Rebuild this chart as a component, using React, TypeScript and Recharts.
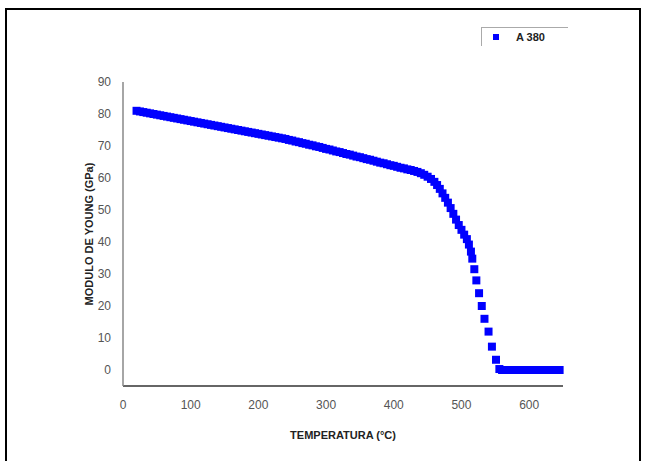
import { ScatterChart, Scatter, XAxis, YAxis, ZAxis, Legend } from "recharts";

// Temperature (°C) and Young's modulus (GPa)
const temperatures = [
  20, 25, 30, 35, 40, 45, 50, 55, 60, 65, 70, 75, 80, 85, 90, 95, 100, 105, 110, 115,
  120, 125, 130, 135, 140, 145, 150, 155, 160, 165, 170, 175, 180, 185, 190, 195, 200, 205, 210, 215,
  220, 225, 230, 235, 240, 245, 250, 255, 260, 265, 270, 275, 280, 285, 290, 295, 300, 305, 310, 315,
  320, 325, 330, 335, 340, 345, 350, 355, 360, 365, 370, 375, 380, 385, 390, 395, 400, 405, 410, 415,
  420, 425, 430, 435, 440, 445, 450, 455, 460, 464, 468, 472, 476, 480, 484, 488, 492, 496, 500, 504,
  508, 511, 514, 516, 519, 522, 526, 530, 534, 540, 545, 551, 556, 560, 565, 570, 575, 580, 585, 590,
  595, 600, 605, 610, 615, 620, 625, 630, 635, 640, 645,
];
const modulus = [
  81.0, 80.8, 80.6, 80.4, 80.2, 80.0, 79.8, 79.6, 79.4, 79.2, 79.0, 78.8, 78.6, 78.4, 78.2, 78.0, 77.8, 77.6, 77.4, 77.2,
  77.0, 76.8, 76.6, 76.4, 76.2, 76.0, 75.8, 75.6, 75.4, 75.2, 75.0, 74.8, 74.6, 74.4, 74.2, 74.0, 73.8, 73.6, 73.4, 73.2,
  73.0, 72.8, 72.6, 72.4, 72.2, 71.9, 71.7, 71.4, 71.2, 70.9, 70.7, 70.4, 70.2, 69.9, 69.7, 69.4, 69.1, 68.9, 68.6, 68.3,
  68.1, 67.8, 67.5, 67.3, 67.0, 66.7, 66.5, 66.2, 65.9, 65.7, 65.4, 65.1, 64.8, 64.6, 64.3, 64.0, 63.8, 63.5, 63.2, 63.0,
  62.7, 62.5, 62.2, 61.9, 61.5, 61.0, 60.4, 59.7, 58.8, 57.8, 56.6, 55.2, 53.8, 52.3, 50.6, 48.8, 47.0, 45.3, 43.8, 42.3,
  40.9, 39.2, 37.0, 34.8, 31.5, 28.0, 24.0, 20.0, 16.0, 12.0, 7.3, 3.2, 0.3, 0, 0, 0, 0, 0, 0, 0,
  0, 0, 0, 0, 0, 0, 0, 0, 0, 0, 0,
];
const xTicks = [0, 100, 200, 300, 400, 500, 600];
const yTicks = [0, 10, 20, 30, 40, 50, 60, 70, 80, 90];
const seriesName = "A 380";

const data = temperatures.map((t, i) => ({ t, e: modulus[i] }));

const font = "'Liberation Sans', Arial, sans-serif";

function LegendBox() {
  return (
    <div
      style={{
        width: 86,
        height: 18,
        borderTop: "1.5px solid #aaa",
        borderLeft: "1.5px solid #aaa",
        display: "flex",
        alignItems: "center",
        fontFamily: font,
        fontSize: 11,
        fontWeight: "bold",
        color: "#222",
      }}
    >
      <span style={{ display: "inline-block", width: 6, height: 6, background: "#0000ff", marginLeft: 11, marginRight: 17 }} />
      {seriesName}
    </div>
  );
}

const edge = { position: "absolute" as const, background: "#000", zIndex: 2 };

export default function App() {
  return (
    <div style={{ position: "absolute", left: 0, top: 0, width: 645, height: 461, background: "#fff", overflow: "hidden" }}>
      <ScatterChart
        width={645}
        height={461}
        margin={{ top: 63, right: 82, bottom: 45, left: 63 }}
        style={{ position: "absolute", left: 0, top: 0 }}
      >
        <XAxis
          type="number"
          dataKey="t"
          domain={[0, 650]}
          ticks={xTicks}
          tickLine={false}
          axisLine={{ stroke: "#333", strokeWidth: 1.5 }}
          tick={{ fill: "#555", fontSize: 12, fontFamily: font }}
          tickMargin={8}
          height={30}
          label={{
            value: "TEMPERATURA (°C)",
            position: "insideBottom",
            offset: -23,
            style: { fill: "#222", fontSize: 11, fontWeight: "bold", fontFamily: font },
          }}
        />
        <YAxis
          type="number"
          dataKey="e"
          domain={[-5, 90]}
          ticks={yTicks}
          tickLine={false}
          axisLine={{ stroke: "#888", strokeWidth: 1.5 }}
          tick={{ fill: "#555", fontSize: 12, fontFamily: font }}
          tickMargin={6}
          width={60}
          label={{
            value: "MODULO DE YOUNG (GPa)",
            angle: -90,
            position: "insideLeft",
            offset: 26,
            style: { textAnchor: "middle", fill: "#222", fontSize: 11, fontWeight: "bold", fontFamily: font },
          }}
        />
        <ZAxis range={[64, 64]} />
        <Legend
          verticalAlign="top"
          align="right"
          content={() => <LegendBox />}
          wrapperStyle={{ position: "absolute", left: 481, top: 27, width: 90 }}
        />
        <Scatter name={seriesName} data={data} fill="#0000ff" shape="square" isAnimationActive={false} />
      </ScatterChart>
      <div style={{ ...edge, left: 5, top: 8, width: 636, height: 2 }} />
      <div style={{ ...edge, left: 5, top: 8, width: 2, height: 453 }} />
      <div style={{ ...edge, left: 639, top: 8, width: 2, height: 453 }} />
    </div>
  );
}
